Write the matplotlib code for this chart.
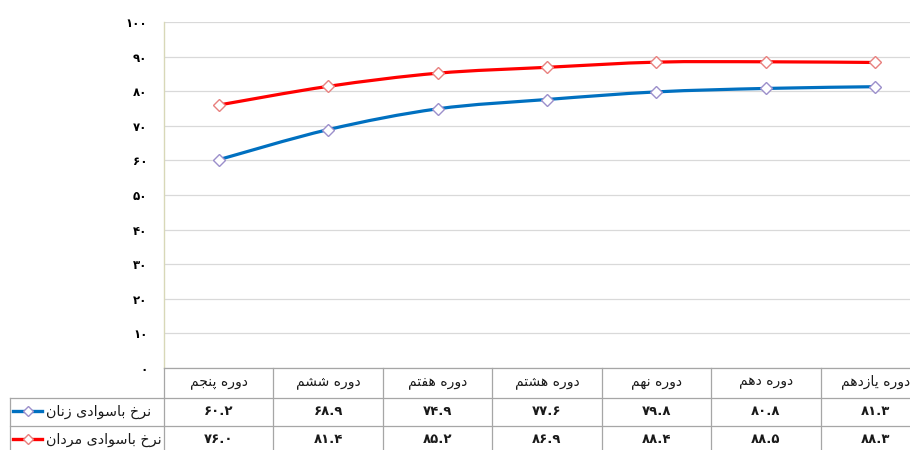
import matplotlib
matplotlib.use('Agg')
import matplotlib.pyplot as plt
from matplotlib.path import Path
from matplotlib.patches import PathPatch
from matplotlib.lines import Line2D

# ---------------- data ----------------
categories = ['دوره پنجم', 'دوره ششم', 'دوره هفتم', 'دوره هشتم',
              'دوره نهم', 'دوره دهم', 'دوره یازدهم']
women = [60.2, 68.9, 74.9, 77.6, 79.8, 80.8, 81.3]
men = [76.0, 81.4, 85.2, 86.9, 88.4, 88.5, 88.3]
series_names = ['نرخ باسوادی زنان', 'نرخ باسوادی مردان']
series_colors = ['#0070C0', '#FF0000']
marker_edges = ['#9C8FCB', '#E8807E']
yticks = [0, 10, 20, 30, 40, 50, 60, 70, 80, 90, 100]

# ---------------- Arabic-script shaping (presentation forms) ----------------
# (isolated, final, initial, medial); None initial => right-joining only
FORMS = {
    'ا': ('\uFE8D', '\uFE8E', None, None),
    'ب': ('\uFE8F', '\uFE90', '\uFE91', '\uFE92'),
    'پ': ('\uFB56', '\uFB57', '\uFB58', '\uFB59'),
    'ت': ('\uFE95', '\uFE96', '\uFE97', '\uFE98'),
    'ج': ('\uFE9D', '\uFE9E', '\uFE9F', '\uFEA0'),
    'خ': ('\uFEA5', '\uFEA6', '\uFEA7', '\uFEA8'),
    'د': ('\uFEA9', '\uFEAA', None, None),
    'ر': ('\uFEAD', '\uFEAE', None, None),
    'ز': ('\uFEAF', '\uFEB0', None, None),
    'س': ('\uFEB1', '\uFEB2', '\uFEB3', '\uFEB4'),
    'ش': ('\uFEB5', '\uFEB6', '\uFEB7', '\uFEB8'),
    'ف': ('\uFED1', '\uFED2', '\uFED3', '\uFED4'),
    'م': ('\uFEE1', '\uFEE2', '\uFEE3', '\uFEE4'),
    'ن': ('\uFEE5', '\uFEE6', '\uFEE7', '\uFEE8'),
    'ه': ('\uFEE9', '\uFEEA', '\uFEEB', '\uFEEC'),
    'و': ('\uFEED', '\uFEEE', None, None),
    'ی': ('\uFBFC', '\uFBFD', '\uFBFE', '\uFBFF'),
}


def shape(s):
    out = []
    for i, c in enumerate(s):
        if c not in FORMS:
            out.append(c)
            continue
        iso, fin, ini, med = FORMS[c]
        prev = s[i - 1] if i > 0 else None
        nxt = s[i + 1] if i + 1 < len(s) else None
        jp = prev in FORMS and FORMS[prev][2] is not None
        jn = ini is not None and nxt in FORMS
        if jp and jn:
            out.append(med)
        elif jp:
            out.append(fin)
        elif jn:
            out.append(ini)
        else:
            out.append(iso)
    return ''.join(out)[::-1]


FA = str.maketrans('0123456789', '۰۱۲۳۴۵۶۷۸۹')


def fa(s):
    return s.translate(FA)


plt.rcParams['font.family'] = ['DejaVu Sans']

W, H = 910, 450
fig = plt.figure(figsize=(W / 100, H / 100), dpi=100)

# pixel layout
px_left, px_right = 164, 930
px_top, px_zero = 22, 368
row_edges = [368, 398, 426, 454]


def fx(px):
    return px / W


ax = fig.add_axes([fx(px_left), 1 - px_zero / H, fx(px_right - px_left),
                   (px_zero - px_top) / H])
x = list(range(len(categories)))
ax.set_xlim(-0.5, len(categories) - 0.5)
ax.set_ylim(0, 100)
ax.set_yticks(yticks, labels=[fa(str(t)) for t in yticks])
ax.set_xticks([])
ax.tick_params(axis='y', length=0, pad=12, labelsize=8.5)
for lab in ax.get_yticklabels():
    lab.set_fontweight('bold')
ax.grid(axis='y', color='#D9D9D9', linewidth=0.9)
ax.set_axisbelow(True)
for side in ['top', 'right', 'bottom']:
    ax.spines[side].set_visible(False)
ax.spines['left'].set_color('#D8D8B8')
ax.spines['left'].set_linewidth(1.0)


def smooth_path(xs, ys):
    pts = list(zip(xs, ys))
    n = len(pts)
    verts = [pts[0]]
    codes = [Path.MOVETO]
    for i in range(n - 1):
        p0 = pts[i - 1] if i > 0 else pts[i]
        p1 = pts[i]
        p2 = pts[i + 1]
        p3 = pts[i + 2] if i + 2 < n else pts[i + 1]
        c1 = (p1[0] + (p2[0] - p0[0]) / 6, p1[1] + (p2[1] - p0[1]) / 6)
        c2 = (p2[0] - (p3[0] - p1[0]) / 6, p2[1] - (p3[1] - p1[1]) / 6)
        verts += [c1, c2, p2]
        codes += [Path.CURVE4] * 3
    return Path(verts, codes)


for vals, col, mec in zip([women, men], series_colors, marker_edges):
    ax.add_patch(PathPatch(smooth_path(x, vals), facecolor='none',
                           edgecolor=col, linewidth=2.3, zorder=3,
                           capstyle='round'))
    ax.plot(x, vals, linestyle='none', marker='D', markersize=6,
            markerfacecolor='white', markeredgecolor=mec,
            markeredgewidth=1.0, zorder=4)

# ---------------- data table ----------------
tax = fig.add_axes([fx(px_left), 1 - row_edges[-1] / H, fx(px_right - px_left),
                    (row_edges[-1] - row_edges[0]) / H])
tax.set_xlim(ax.get_xlim())
tax.set_ylim(row_edges[-1], row_edges[0])
tax.axis('off')
grid_col = '#A6A6A6'
for xb in [i - 0.5 for i in range(len(categories) + 1)]:
    tax.plot([xb, xb], [row_edges[0], row_edges[-1]], color=grid_col,
             linewidth=0.9, clip_on=False)
for yb in row_edges:
    tax.plot([-0.5, len(categories) - 0.5], [yb, yb], color=grid_col,
             linewidth=0.9, clip_on=False)

for i, cat in enumerate(categories):
    tax.text(i, (row_edges[0] + row_edges[1]) / 2 - 1, shape(cat),
             ha='center', va='center', fontsize=10, color='#1a1a1a')
for r, vals in enumerate([women, men]):
    yc = (row_edges[r + 1] + row_edges[r + 2]) / 2 - 1
    for i, v in enumerate(vals):
        tax.text(i, yc, fa(f'{v:.1f}'), ha='center', va='center',
                 fontsize=9.5, fontweight='bold', color='#1a1a1a')

# row header column (legend keys + series names)
oax = fig.add_axes([0, 0, 1, 1])
oax.set_xlim(0, W)
oax.set_ylim(H, 0)
oax.axis('off')
lab_left = 10
for yb in row_edges[1:]:
    oax.plot([lab_left, px_left], [yb, yb], color=grid_col, linewidth=0.9)
oax.plot([lab_left, lab_left], [row_edges[1], row_edges[-1]],
         color=grid_col, linewidth=0.9)
for r, (name, col, mec) in enumerate(zip(series_names, series_colors,
                                          marker_edges)):
    yc = (row_edges[r + 1] + row_edges[r + 2]) / 2
    oax.add_line(Line2D([13, 42], [yc - 1, yc - 1], color=col, linewidth=2.4))
    oax.add_line(Line2D([27.5], [yc - 1], marker='D', markersize=5.5,
                        markerfacecolor='white', markeredgecolor=mec,
                        markeredgewidth=1.0, linestyle='none'))
    oax.text(46, yc, shape(name), ha='left', va='center',
             fontsize=10.3, color='#1a1a1a')

fig.savefig('out.png', dpi=100)
